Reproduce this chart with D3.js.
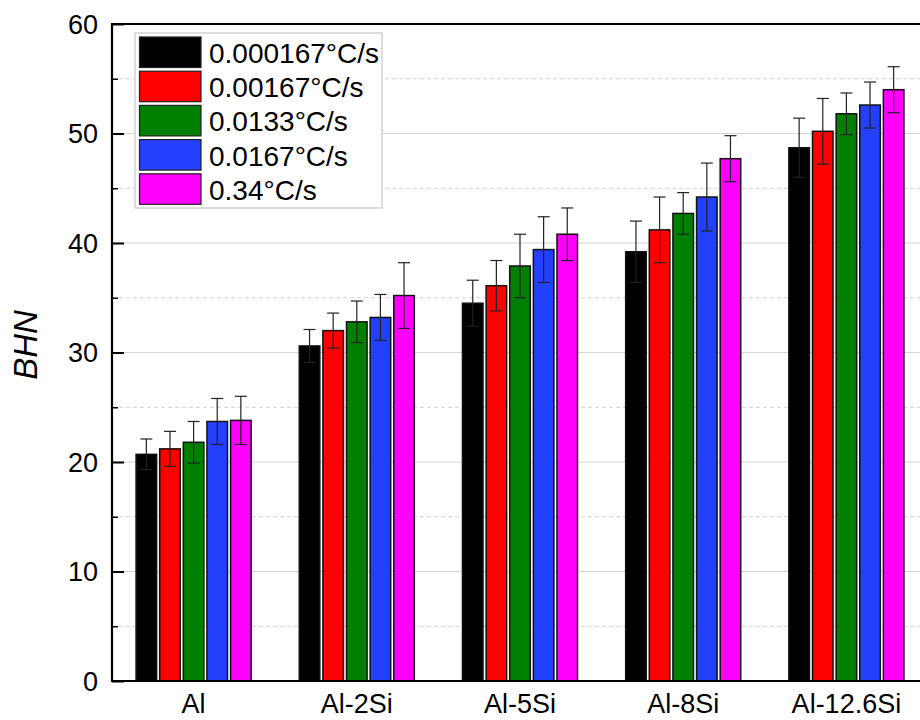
<!DOCTYPE html>
<html>
<head>
<meta charset="utf-8">
<script src="https://cdn.jsdelivr.net/npm/d3@7"></script>
<style>
  html, body { margin: 0; padding: 0; background: #fff; }
  svg { display: block; font-family: "Liberation Sans", Arial, sans-serif; }
</style>
</head>
<body>
<svg id="chart" width="920" height="720"></svg>
<script>
// Alloys and cooling rates
const categories = ["Al", "Al-2Si", "Al-5Si", "Al-8Si", "Al-12.6Si"];
const rates = ["0.000167°C/s", "0.00167°C/s", "0.0133°C/s", "0.0167°C/s", "0.34°C/s"];
const colors = ["#000000", "#ff0000", "#008000", "#2340ff", "#ff00ff"];

// Brinell hardness per cooling rate (one value per alloy)
const hardness000167 = [20.7, 30.6, 34.5, 39.2, 48.7];
const hardness00167  = [21.2, 32.0, 36.1, 41.2, 50.2];
const hardness0133   = [21.8, 32.8, 37.9, 42.7, 51.8];
const hardness0167   = [23.7, 33.2, 39.4, 44.2, 52.6];
const hardness034    = [23.8, 35.2, 40.8, 47.7, 54.0];

// Standard deviations (error bars)
const err000167 = [1.4, 1.5, 2.1, 2.8, 2.7];
const err00167  = [1.6, 1.6, 2.3, 3.0, 3.0];
const err0133   = [1.9, 1.9, 2.9, 1.9, 1.9];
const err0167   = [2.1, 2.1, 3.0, 3.1, 2.1];
const err034    = [2.2, 3.0, 2.4, 2.1, 2.1];

const yTicks = [0, 10, 20, 30, 40, 50, 60];
const yMinorTicks = [5, 15, 25, 35, 45, 55];

const seriesValues = [hardness000167, hardness00167, hardness0133, hardness0167, hardness034];
const seriesErrors = [err000167, err00167, err0133, err0167, err034];

const rows = [];
categories.forEach((c, ci) => {
  rates.forEach((r, si) => {
    rows.push({ cat: c, rate: r, si, value: seriesValues[si][ci], err: seriesErrors[si][ci] });
  });
});

const svg = d3.select("#chart");
const plotLeft = 112, plotRight = 928, plotTop = 24, plotBottom = 681;

const x = d3.scaleBand().domain(categories).range([plotLeft, plotRight])
  .paddingInner(0.295).paddingOuter(0.1475);
const xs = d3.scaleBand().domain(rates).range([0, x.bandwidth()])
  .paddingInner(0.13).paddingOuter(0);
const y = d3.scaleLinear().domain([0, 60]).range([plotBottom, plotTop]);
const color = d3.scaleOrdinal().domain(rates).range(colors);

// Grid lines
const grid = svg.append("g");
grid.selectAll("line.major").data(yTicks.filter(t => t > 0 && t < 60)).join("line")
  .attr("class", "major")
  .attr("x1", plotLeft).attr("x2", plotRight)
  .attr("y1", d => y(d)).attr("y2", d => y(d))
  .attr("stroke", "#d4d4d4").attr("stroke-width", 1.2);
grid.selectAll("line.minor").data(yMinorTicks).join("line")
  .attr("class", "minor")
  .attr("x1", plotLeft).attr("x2", plotRight)
  .attr("y1", d => y(d)).attr("y2", d => y(d))
  .attr("stroke", "#d0d0d0").attr("stroke-width", 1)
  .attr("stroke-dasharray", "4,3");

// Bars
const bars = svg.append("g");
bars.selectAll("rect").data(rows).join("rect")
  .attr("x", d => x(d.cat) + xs(d.rate))
  .attr("y", d => y(d.value))
  .attr("width", xs.bandwidth())
  .attr("height", d => y(0) - y(d.value))
  .attr("fill", d => color(d.rate))
  .attr("stroke", "#111")
  .attr("stroke-width", 1.5);

// Error bars
const capW = 12;
const eb = svg.append("g").attr("stroke", "#222").attr("stroke-width", 1.2);
rows.forEach(d => {
  const cx = x(d.cat) + xs(d.rate) + xs.bandwidth() / 2;
  const y1 = y(d.value + d.err), y2 = y(d.value - d.err);
  eb.append("line").attr("x1", cx).attr("x2", cx).attr("y1", y1).attr("y2", y2);
  eb.append("line").attr("x1", cx - capW / 2).attr("x2", cx + capW / 2).attr("y1", y1).attr("y2", y1);
  eb.append("line").attr("x1", cx - capW / 2).attr("x2", cx + capW / 2).attr("y1", y2).attr("y2", y2);
});

// Y axis with inward ticks
svg.append("g").attr("transform", `translate(${plotLeft},0)`)
  .call(d3.axisRight(y).tickValues(yTicks).tickSize(12).tickFormat(""))
  .call(g => g.select(".domain").remove())
  .selectAll(".tick line").attr("stroke", "#000").attr("stroke-width", 2);
svg.append("g").attr("transform", `translate(${plotLeft},0)`)
  .call(d3.axisRight(y).tickValues(yMinorTicks).tickSize(6).tickFormat(""))
  .call(g => g.select(".domain").remove())
  .selectAll(".tick line").attr("stroke", "#000").attr("stroke-width", 1.5);

svg.append("g").selectAll("text").data(yTicks).join("text")
  .attr("x", plotLeft - 14).attr("y", d => y(d)).attr("dy", "0.36em")
  .attr("text-anchor", "end").attr("font-size", 27).attr("fill", "#000")
  .text(d => d);

// Frame: left, bottom and top lines
svg.append("line").attr("x1", plotLeft).attr("x2", plotLeft).attr("y1", plotTop - 1).attr("y2", plotBottom + 1)
  .attr("stroke", "#000").attr("stroke-width", 2.2);
svg.append("line").attr("x1", plotLeft - 1).attr("x2", plotRight).attr("y1", plotBottom).attr("y2", plotBottom)
  .attr("stroke", "#000").attr("stroke-width", 2.2);
svg.append("line").attr("x1", plotLeft - 1).attr("x2", plotRight).attr("y1", plotTop).attr("y2", plotTop)
  .attr("stroke", "#000").attr("stroke-width", 2.2);

// X axis labels
const xAxis = svg.append("g").attr("transform", `translate(0,${plotBottom})`)
  .call(d3.axisBottom(x).tickSize(0).tickPadding(0));
xAxis.select(".domain").remove();
xAxis.selectAll(".tick text")
  .attr("y", 32).attr("dy", 0)
  .attr("font-size", 27).attr("fill", "#000")
  .attr("font-family", "'Liberation Sans', Arial, sans-serif");

// Y axis title
svg.append("text")
  .attr("transform", `translate(37,345) rotate(-90)`)
  .attr("text-anchor", "middle")
  .attr("font-size", 33).attr("font-style", "italic")
  .text("BHN");

// Legend
const lg = svg.append("g");
lg.append("rect").attr("x", 135).attr("y", 33).attr("width", 247).attr("height", 175)
  .attr("fill", "#fff").attr("stroke", "#bbb").attr("stroke-width", 1);
const rowH = 34.2;
rates.forEach((r, i) => {
  const ry = 37 + i * rowH;
  lg.append("rect").attr("x", 139.5).attr("y", ry).attr("width", 61.5).attr("height", 30.5)
    .attr("fill", color(r)).attr("stroke", "#222").attr("stroke-width", 1.2);
  lg.append("text").attr("x", 209).attr("y", ry + 26)
    .attr("font-size", 28).attr("fill", "#000").text(r);
});
</script>
</body>
</html>
